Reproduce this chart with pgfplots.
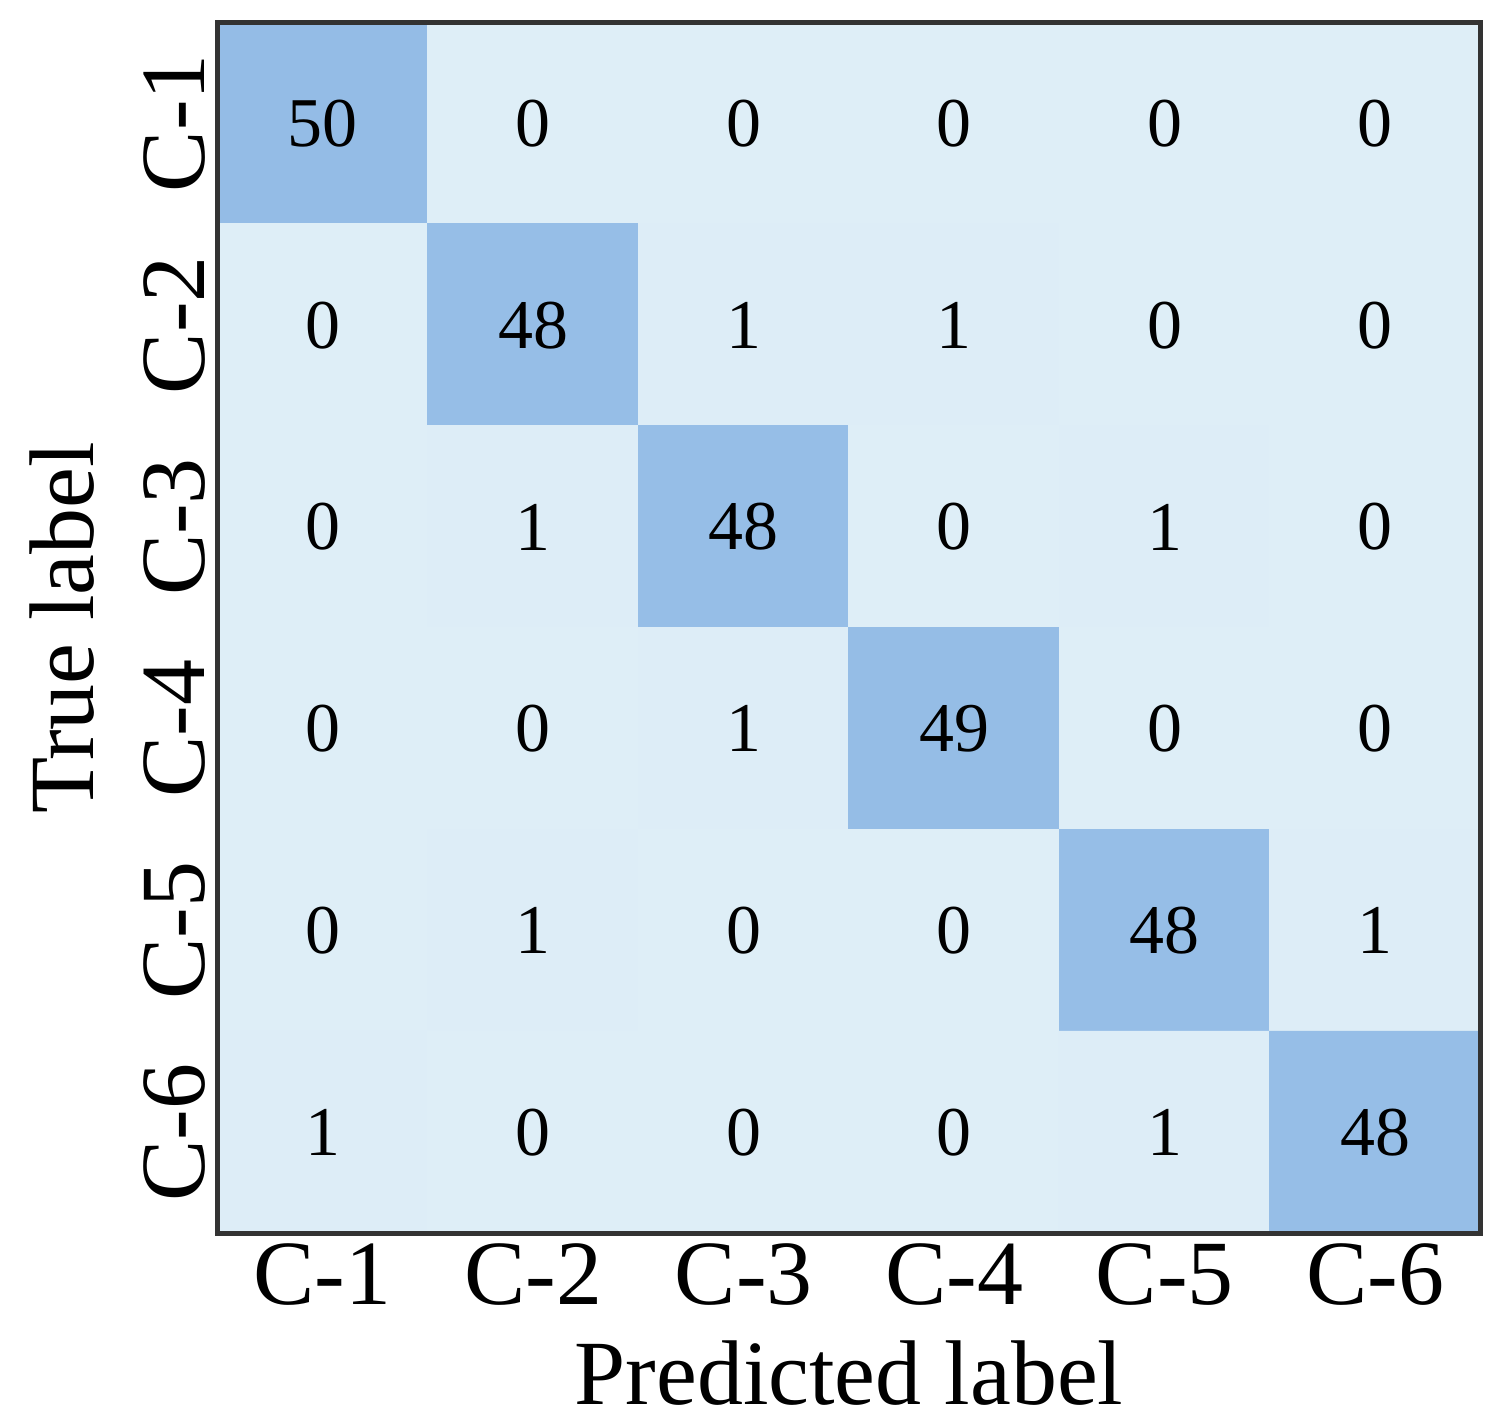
\documentclass[border={4bp 0bp 6.75bp 5bp}]{standalone}
\usepackage{fontspec}
\setmainfont{Liberation Serif}
\usepackage{pgfplots}
\pgfplotsset{compat=1.18}
\definecolor{offc}{RGB}{222,238,247}
\definecolor{diagc}{RGB}{148,188,230}
\begin{document}
\begin{tikzpicture}
\begin{axis}[
  scale only axis,
  width=315bp, height=302bp,
  xmin=-0.5, xmax=5.5, ymin=-0.5, ymax=5.5,
  y dir=reverse,
  xtick={0,1,2,3,4,5}, ytick={0,1,2,3,4,5},
  xticklabels={C-1,C-2,C-3,C-4,C-5,C-6},
  yticklabels={C-1,C-2,C-3,C-4,C-5,C-6},
  major tick length=0pt,
  tick label style={font=\fontsize{23}{27}\selectfont},
  yticklabel style={rotate=90, anchor=south, yshift=-0.5bp},
  xticklabel style={yshift=1bp},
  xlabel={Predicted label}, ylabel={True label},
  label style={font=\fontsize{23}{27}\selectfont},
  xlabel style={yshift=-2bp},
  ylabel style={yshift=5.5bp},
  axis line style={draw=black!80, line width=1.2pt},
  axis on top,
  colormap={cm}{color=(offc) color=(diagc)},
  point meta min=0, point meta max=50,
  nodes near coords={\pgfmathprintnumber[assume math mode=true]{\pgfplotspointmeta}},
  nodes near coords align=center,
  every node near coord/.append style={font=\fontsize{17.5}{20}\selectfont, text=black, anchor=center},
]
\addplot[matrix plot*, mesh/cols=6, point meta=explicit, draw=none] table[meta=C] {
x y C
0 0 50
1 0 0
2 0 0
3 0 0
4 0 0
5 0 0
0 1 0
1 1 48
2 1 1
3 1 1
4 1 0
5 1 0
0 2 0
1 2 1
2 2 48
3 2 0
4 2 1
5 2 0
0 3 0
1 3 0
2 3 1
3 3 49
4 3 0
5 3 0
0 4 0
1 4 1
2 4 0
3 4 0
4 4 48
5 4 1
0 5 1
1 5 0
2 5 0
3 5 0
4 5 1
5 5 48
};
\end{axis}
\end{tikzpicture}
\end{document}
